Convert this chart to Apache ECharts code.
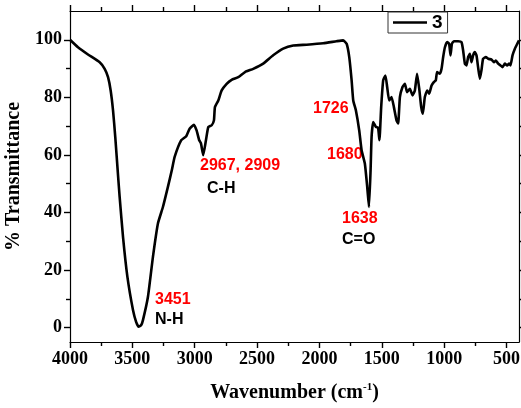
<!DOCTYPE html>
<html>
<head>
<meta charset="utf-8">
<script src="https://cdn.jsdelivr.net/npm/echarts@6/dist/echarts.min.js"></script>
<style>
  html, body { margin: 0; padding: 0; background: #fff; }
  #chart { width: 521px; height: 408px; }
</style>
</head>
<body>
<div id="chart"></div>
<script>
// FTIR spectrum of sample 3
var wavenumber = [
  4000, 3936, 3856, 3762, 3722, 3695, 3674, 3655, 3637, 3615, 3602, 3575, 3540, 3495, 3470, 3450,
  3430, 3415, 3375, 3335, 3295, 3255, 3215, 3182, 3161, 3108, 3068, 3041, 3006, 2985, 2964, 2950,
  2932, 2910, 2891, 2864, 2846, 2838, 2811, 2784, 2744, 2704, 2651, 2597, 2531, 2451, 2371, 2291,
  2210, 2103, 1970, 1863, 1810, 1782, 1761, 1742, 1729, 1708, 1681, 1662, 1636, 1617, 1603, 1590,
  1582, 1569, 1547, 1530, 1519, 1505, 1489, 1471, 1457, 1441, 1422, 1403, 1382, 1369, 1355, 1334,
  1315, 1297, 1275, 1254, 1235, 1217, 1200, 1184, 1171, 1155, 1136, 1120, 1101, 1083, 1067, 1057,
  1035, 1021, 1008, 994, 976, 960, 949, 938, 922, 888, 861, 848, 834, 821, 808, 794,
  781, 768, 754, 741, 728, 714, 701, 688, 666, 647, 620, 601, 585, 567, 548, 532,
  513, 495, 479, 468, 452, 433, 414, 400
];
var transmittance = [
  100, 97.4, 94.9, 92.2, 89.9, 87, 82.4, 75.5, 66.2, 53, 45.4, 31.5, 17.7, 6.1, 2, 0.3,
  0.8, 2.6, 10.7, 24.6, 36.2, 41.9, 48.9, 55, 59.3, 65.1, 66.5, 69.1, 70.5, 68.5, 65.1, 64,
  59.9, 65.1, 69.7, 70.3, 72, 76.6, 78.9, 82.4, 84.7, 86.1, 87, 88.8, 89.9, 91.7, 94.6, 96.9,
  98, 98.3, 98.8, 99.5, 99.8, 98.6, 94, 85.9, 78.9, 75.5, 68.5, 61.6, 57, 48.9, 41.9, 54.7,
  66.2, 71.4, 69.7, 69.5, 65.1, 76.6, 85.9, 87.6, 83.6, 78.9, 80.1, 76.6, 72, 70.9, 80.1, 83.6,
  84.7, 81.8, 83, 80.7, 82.4, 88.2, 83, 76.6, 74.3, 80.1, 82.4, 81.3, 84.1, 85.3, 85.9, 88.8,
  88.2, 89.9, 94, 97.4, 99.2, 98.6, 94.6, 98.6, 99.5, 99.5, 99.2, 96.3, 91.7, 91.1, 94, 95.1,
  92.2, 94.6, 95.7, 94.6, 90.5, 86.5, 89.4, 93.4, 94, 93.4, 93.1, 92.2, 92.8, 91.7, 91.1, 90.5,
  91.7, 91.1, 91.7, 91.1, 94.6, 96.9, 98.6, 99.8
];
var xMajor = [4000, 3500, 3000, 2500, 2000, 1500, 1000, 500];
var xMinor = [3750, 3250, 2750, 2250, 1750, 1250, 750];
var yMajor = [0, 20, 40, 60, 80, 100];
var yMinor = [10, 30, 50, 70, 90];
var seriesName = '3';

var chart = echarts.init(document.getElementById('chart'));

var serif = 'Liberation Serif';
var sans = 'Liberation Sans';

function plain(v) { return String(v); }

// grid 0 carries the major ticks (and the data), grid 1 sits on top of it with the minor ticks
function axis(range, grid, pos, ticks, len, labels, extra) {
  return Object.assign({
    type: 'value', gridIndex: grid, position: pos,
    min: range[0], max: range[1], inverse: !!range[2],
    axisLine: { show: grid === 0, onZero: false, lineStyle: { color: '#000', width: 1.2 } },
    axisTick: { show: true, inside: false, length: len, customValues: ticks,
      lineStyle: { color: '#000', width: 1.4 } },
    axisLabel: labels ? { show: true, customValues: ticks, margin: 8, formatter: plain,
      color: '#000', fontFamily: serif, fontWeight: 'bold', fontSize: 18 } : { show: false },
    splitLine: { show: false }
  }, extra || {});
}
var xr = [400, 4000, true];
var yr = [-5, 110];

function note(text, left, top, color) {
  return {
    type: 'text', left: left, top: top,
    style: { text: text, fill: color, font: 'bold 16px "Liberation Sans"' }
  };
}

var box = { left: 70, right: 2, top: 11, bottom: 66, containLabel: false, outerBoundsMode: 'none' };

var option = {
  backgroundColor: '#fff',
  animation: false,
  grid: [Object.assign({}, box), Object.assign({}, box)],
  legend: {
    data: [{ name: seriesName, icon: 'rect' }],
    left: 388, top: 12,
    borderColor: '#333', borderWidth: 1,
    padding: [1, 5, 1, 5],
    itemWidth: 34, itemHeight: 2.5,
    textStyle: { color: '#000', fontFamily: sans, fontWeight: 'bold', fontSize: 19 }
  },
  xAxis: [
    axis(xr, 0, 'bottom', xMajor, 6, true, {
      name: '{a|Wavenumber (cm}{s|-1}{a|)}',
      nameLocation: 'middle', nameGap: 40,
      nameTextStyle: {
        rich: {
          a: { fontFamily: serif, fontWeight: 'bold', fontSize: 20, color: '#000' },
          s: { fontFamily: serif, fontWeight: 'bold', fontSize: 11, color: '#000',
            verticalAlign: 'top', padding: [0, 0, 10, 0] }
        }
      }
    }),
    axis(xr, 0, 'top', xMajor, 6, false),
    axis(xr, 1, 'bottom', xMinor, 4, false),
    axis(xr, 1, 'top', xMinor, 4, false)
  ],
  yAxis: [
    axis(yr, 0, 'left', yMajor, 6, true, {
      name: '% Transmittance',
      nameLocation: 'middle', nameGap: 38,
      nameTextStyle: { fontFamily: serif, fontWeight: 'bold', fontSize: 20, color: '#000' }
    }),
    axis(yr, 0, 'right', yMajor, 6, false),
    axis(yr, 1, 'left', yMinor, 4, false),
    axis(yr, 1, 'right', yMinor, 4, false)
  ],
  series: [{
    name: seriesName,
    type: 'line',
    xAxisIndex: 0, yAxisIndex: 0,
    symbol: 'none',
    smooth: 0.15,
    lineStyle: { color: '#000', width: 2.6 },
    itemStyle: { color: '#000' },
    data: wavenumber.map(function (w, i) { return [w, transmittance[i]]; })
  }],
  graphic: [
    note('3451', 155, 292, '#ff0000'),
    note('N-H', 155, 312, '#000'),
    note('2967, 2909', 200, 158, '#ff0000'),
    note('C-H', 207, 181, '#000'),
    note('1726', 313, 101, '#ff0000'),
    note('1680', 327, 147, '#ff0000'),
    note('1638', 342, 211, '#ff0000'),
    note('C=O', 342, 232, '#000')
  ]
};

chart.setOption(option);
</script>
</body>
</html>
